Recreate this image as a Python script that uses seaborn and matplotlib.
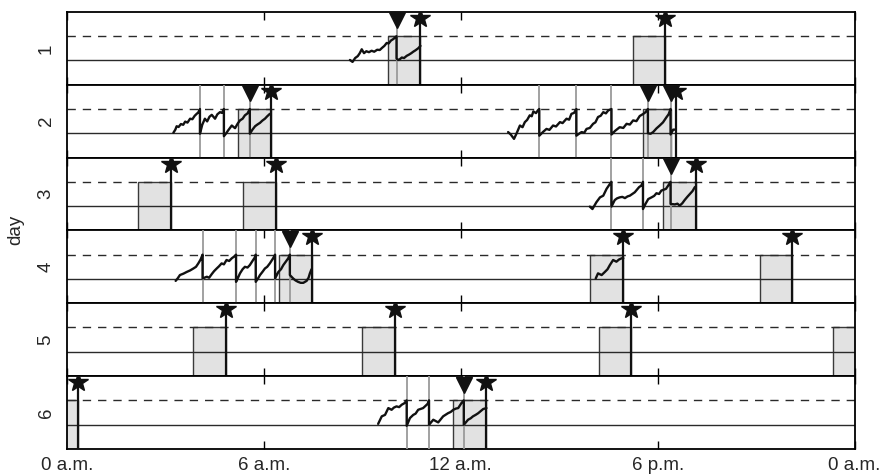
import matplotlib
matplotlib.use("Agg")
import matplotlib.pyplot as plt
import seaborn as sns
import pandas as pd

# ---------------- data (hours of day, level units) ----------------
days = [1, 2, 3, 4, 5, 6]
xtick_pos = [0, 6, 12, 18, 24]
xtick_labels = ["0 a.m.", "6 a.m.", "12 a.m.", "6 p.m.", "0 a.m."]
baseline_level = 1.0
threshold_level = 2.0

d1_x = [8.62, 8.70, 8.78, 8.86, 8.92, 8.98, 9.05, 9.12, 9.20, 9.28, 9.36, 9.45, 9.53, 9.60, 9.67,
        9.74, 9.80, 9.87, 9.94, 10.00, 10.04, 10.04, 10.09, 10.14, 10.20, 10.27, 10.35, 10.42,
        10.49, 10.55, 10.62, 10.70, 10.77]
d1_y = [1.02, 0.94, 1.10, 1.18, 1.30, 1.46, 1.30, 1.38, 1.34, 1.40, 1.36, 1.44, 1.43, 1.52, 1.60,
        1.72, 1.70, 1.82, 1.88, 1.95, 2.00, 1.08, 1.02, 1.05, 1.12, 1.10, 1.19, 1.24,
        1.30, 1.36, 1.42, 1.50, 1.60]

d2a_x = [3.24, 3.30, 3.34, 3.40, 3.47, 3.54, 3.60, 3.67, 3.75, 3.82, 3.89, 3.95, 4.00, 4.05,
         4.05, 4.12, 4.20, 4.27, 4.34, 4.41, 4.51, 4.58, 4.66, 4.72, 4.78,
         4.78, 4.85, 4.91, 5.02, 5.12, 5.20, 5.27, 5.35, 5.42, 5.50, 5.57,
         5.57, 5.65, 5.73, 5.80, 5.88, 5.95, 6.03, 6.10, 6.18]
d2a_y = [1.02, 1.15, 1.29, 1.26, 1.38, 1.35, 1.48, 1.44, 1.60, 1.58, 1.72, 1.80, 1.86, 2.00,
         0.98, 1.35, 1.60, 1.49, 1.68, 1.76, 1.60, 1.78, 1.87, 1.84, 2.00,
         0.88, 1.00, 1.12, 1.32, 1.21, 1.40, 1.53, 1.60, 1.74, 1.82, 2.00,
         0.98, 1.15, 1.29, 1.36, 1.43, 1.52, 1.60, 1.70, 1.80]

d2b_x = [13.44, 13.52, 13.62, 13.70, 13.80, 13.88, 13.95, 14.02, 14.10, 14.16, 14.21, 14.29, 14.35, 14.39,
         14.39, 14.50, 14.61, 14.70, 14.81, 14.90, 15.02, 15.10, 15.22, 15.30, 15.37, 15.45, 15.52,
         15.52, 15.60, 15.68, 15.76, 15.83, 15.93, 16.03, 16.10, 16.18, 16.26, 16.34, 16.42, 16.49, 16.59,
         16.59, 16.70, 16.84, 16.95, 17.05, 17.15, 17.25, 17.35, 17.45, 17.56, 17.62, 17.70,
         17.70, 17.78, 17.86, 17.96, 18.06, 18.16, 18.27, 18.33, 18.39,
         18.39, 18.47, 18.55]
d2b_y = [1.05, 0.95, 0.77, 1.00, 1.32, 1.25, 1.46, 1.55, 1.74, 1.70, 1.90, 1.83, 1.95, 2.00,
         0.90, 1.05, 1.18, 1.14, 1.32, 1.28, 1.46, 1.42, 1.60, 1.56, 1.80, 1.84, 2.00,
         0.90, 0.98, 1.05, 1.02, 1.18, 1.22, 1.39, 1.45, 1.67, 1.72, 1.87, 1.82, 1.94, 2.00,
         0.95, 1.10, 1.25, 1.22, 1.39, 1.36, 1.53, 1.50, 1.71, 1.80, 1.86, 2.00,
         1.00, 0.98, 1.05, 1.20, 1.32, 1.45, 1.67, 1.78, 2.00,
         0.95, 1.15, 1.15]

d3_x = [15.93, 16.01, 16.13, 16.24, 16.34, 16.44, 16.54, 16.59,
        16.59, 16.69, 16.76, 16.84, 16.92, 17.00, 17.08, 17.15, 17.30, 17.43, 17.50, 17.55,
        17.55, 17.63, 17.71, 17.81, 17.89, 17.96, 18.04, 18.11, 18.25, 18.35, 18.39,
        18.39, 18.52, 18.60, 18.67, 18.75, 18.82, 18.90, 18.98, 19.06, 19.13, 19.16]
d3_y = [0.98, 0.88, 1.16, 1.36, 1.43, 1.71, 1.91, 2.00,
        0.98, 1.25, 1.32, 1.36, 1.38, 1.33, 1.40, 1.43, 1.57, 1.78, 1.85, 2.00,
        0.88, 1.10, 1.29, 1.36, 1.42, 1.53, 1.50, 1.64, 1.71, 1.91, 2.00,
        1.09, 1.07, 1.10, 1.02, 1.12, 1.25, 1.38, 1.50, 1.62, 1.78, 1.80]

d4a_x = [3.31, 3.37, 3.44, 3.55, 3.65, 3.75, 3.85, 3.93, 4.00, 4.07, 4.13,
         4.13, 4.26, 4.33, 4.41, 4.48, 4.56, 4.63, 4.71, 4.78, 4.86, 4.94, 5.02, 5.09, 5.15,
         5.15, 5.21, 5.27, 5.35, 5.42, 5.50, 5.57, 5.67, 5.72, 5.75,
         5.75, 5.82, 5.88, 5.96, 6.03, 6.10, 6.18, 6.28, 6.34,
         6.34, 6.44, 6.52, 6.59, 6.66, 6.74, 6.79,
         6.79, 6.89, 6.96, 7.04, 7.12, 7.20, 7.30, 7.36, 7.40, 7.45]
d4a_y = [0.92, 1.02, 1.16, 1.22, 1.29, 1.35, 1.43, 1.50, 1.64, 1.80, 2.00,
         1.02, 1.09, 1.05, 1.20, 1.32, 1.43, 1.52, 1.64, 1.60, 1.78, 1.74, 1.85, 1.92, 2.00,
         0.88, 1.05, 1.23, 1.40, 1.50, 1.47, 1.57, 1.78, 1.88, 2.00,
         0.88, 1.02, 1.16, 1.30, 1.43, 1.50, 1.64, 1.85, 2.00,
         1.02, 1.29, 1.40, 1.57, 1.70, 1.85, 2.00,
         1.16, 1.02, 0.94, 0.88, 0.84, 0.84, 0.92, 1.05, 1.23, 1.40]

d4b_x = [16.11, 16.18, 16.29, 16.39, 16.47, 16.54, 16.64, 16.74, 16.82, 16.90, 16.95]
d4b_y = [1.02, 1.23, 1.16, 1.29, 1.40, 1.57, 1.78, 1.71, 1.80, 1.85, 1.85]

d6_x = [9.48, 9.59, 9.69, 9.79, 9.89, 9.96, 10.04, 10.12, 10.20, 10.28, 10.35,
        10.35, 10.45, 10.55, 10.62, 10.70, 10.85, 10.93, 10.99, 11.03,
        11.03, 11.16, 11.31, 11.46, 11.61, 11.69, 11.77, 11.85, 11.92, 12.02, 12.09,
        12.09, 12.22, 12.30, 12.37, 12.45, 12.53, 12.60, 12.68, 12.78]
d6_y = [1.03, 1.34, 1.40, 1.68, 1.61, 1.70, 1.75, 1.72, 1.82, 1.88, 2.00,
        0.95, 1.27, 1.40, 1.45, 1.61, 1.68, 1.78, 1.86, 2.00,
        0.99, 1.20, 1.09, 1.34, 1.47, 1.52, 1.61, 1.66, 1.68, 1.89, 2.00,
        0.99, 1.20, 1.26, 1.34, 1.40, 1.47, 1.55, 1.64, 1.68]

star_day = [1, 1, 2, 2, 3, 3, 3, 4, 4, 4, 5, 5, 5, 5, 6, 6]
star_hour = [10.77, 18.22, 6.20, 18.55, 3.17, 6.37, 19.16, 7.45, 16.94, 22.10,
             4.84, 9.99, 17.20, 24.34, 0.34, 12.78]
star_level = 2.75

rect_day = [1, 1, 2, 2, 3, 3, 3, 4, 4, 4, 5, 5, 5, 5, 6, 6]
rect_start = [9.77, 17.25, 5.20, 17.55, 2.17, 5.37, 18.16, 6.47, 15.95, 21.11,
              3.85, 9.00, 16.21, 23.34, -0.66, 11.77]
rect_end = [10.77, 18.22, 6.20, 18.39, 3.17, 6.37, 19.16, 7.45, 16.94, 22.10,
            4.84, 9.99, 17.20, 24.34, 0.34, 12.78]

gray_day = [1, 2, 2, 2, 2, 2, 2, 2, 2, 3, 3, 3, 4, 4, 4, 4, 4, 6, 6, 6]
gray_hour = [10.04, 4.05, 4.78, 5.57, 14.39, 15.52, 16.59, 17.70, 18.39,
             16.59, 17.55, 18.39, 4.13, 5.15, 5.75, 6.34, 6.79, 10.35, 11.03, 12.09]

tri_day = [1, 2, 2, 2, 3, 4, 6]
tri_hour = [10.04, 5.57, 17.70, 18.39, 18.39, 6.79, 12.09]
tri_level = 2.65

# ---------------- build tables ----------------
trace_parts = [(1, d1_x, d1_y), (2, d2a_x, d2a_y), (2, d2b_x, d2b_y), (3, d3_x, d3_y),
               (4, d4a_x, d4a_y), (4, d4b_x, d4b_y), (6, d6_x, d6_y)]
rows = []
for k, (d, xs, ys) in enumerate(trace_parts):
    for i, (xv, yv) in enumerate(zip(xs, ys)):
        rows.append({"day": d, "seg": k, "order": i, "hour": xv, "level": yv})
traces = pd.DataFrame(rows)
rects = pd.DataFrame({"day": rect_day, "start": rect_start, "end": rect_end})
stars = pd.DataFrame({"day": star_day, "hour": star_hour})
grays = pd.DataFrame({"day": gray_day, "hour": gray_hour})
tris = pd.DataFrame({"day": tri_day, "hour": tri_hour})

# ---------------- plot ----------------
sns.set_theme(style="white")
plt.rcParams["font.family"] = ["Liberation Sans", "DejaVu Sans"]

fig, axes = plt.subplots(len(days), 1, figsize=(8.82, 4.76), dpi=100, sharex=True,
                         gridspec_kw=dict(hspace=0))
fig.subplots_adjust(left=0.076, right=0.969, top=0.975, bottom=0.057)

for ax, d in zip(axes, days):
    r = rects[rects.day == d]
    ax.bar(r.start, [threshold_level] * len(r), width=(r.end - r.start).values, align="edge",
           color="#e2e2e2", edgecolor="#3a3a3a", linewidth=1.0, zorder=1)
    ax.axhline(baseline_level, color="#2a2a2a", lw=1.0, zorder=2)
    ax.axhline(threshold_level, color="#2a2a2a", lw=1.0, dashes=(6, 5), zorder=2)
    for h in grays[grays.day == d].hour:
        ax.axvline(h, color="#9a9a9a", lw=1.3, zorder=3)
    t = traces[traces.day == d]
    if len(t):
        sns.lineplot(data=t, x="hour", y="level", units="seg", estimator=None, sort=False,
                     color="#111111", lw=1.7, ax=ax, legend=False, zorder=4)
    s = stars[stars.day == d]
    ax.vlines(s.hour, 0, star_level, color="#111111", lw=1.6, zorder=5)
    ax.plot(s.hour, [star_level] * len(s), ls="none", marker="*", ms=14.5,
            color="#111111", zorder=6)
    tr = tris[tris.day == d]
    ax.plot(tr.hour, [tri_level] * len(tr), ls="none", marker="v", ms=11.5,
            color="#111111", zorder=6)

    ax.set_xlim(0, 24)
    ax.set_ylim(0, 3)
    ax.set_xlabel("")
    ax.set_ylabel("")
    ax.set_yticks([1.5])
    ax.set_yticklabels([str(d)], rotation=90, va="center", fontsize=13.5)
    ax.tick_params(axis="y", length=0, pad=9)
    ax.set_xticks(xtick_pos)
    ax.tick_params(axis="x", direction="in", top=True, bottom=True, length=6, width=1.0,
                   color="black", labelbottom=(d == days[-1]), pad=6, labelsize=13.5)
    for sp in ax.spines.values():
        sp.set_color("black")
        sp.set_linewidth(1.3)

axes[-1].set_xticklabels(xtick_labels)
fig.text(0.018, 0.517, "day", rotation=90, va="center", ha="center", fontsize=13.5)

fig.savefig("out.png", dpi=100)
